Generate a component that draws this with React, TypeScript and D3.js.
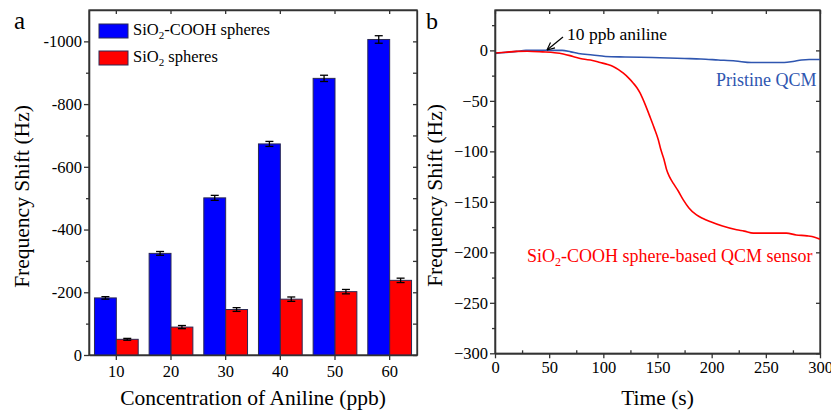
import React, { useRef, useEffect } from "react";
import * as d3 from "d3";

// panel a
const concentrations = ["10", "20", "30", "40", "50", "60"];
const seriesNames = ["cooh", "bare"];
const coohShift = [182, 324, 501, 673, 882, 1006];
const coohErr = [4, 6, 8, 8, 10, 12];
const bareShift = [50, 89, 145, 178, 202, 238];
const bareErr = [3, 5, 6, 7, 7, 7];
const shiftMajor = [0, 200, 400, 600, 800, 1000];
const shiftMinor = [100, 300, 500, 700, 900];

// panel b
const pristineTime = [0, 10, 20, 28.5, 45, 62, 70, 77, 90, 102, 120, 145, 160, 175, 190, 206, 222, 236.6, 250, 267, 275, 283, 290, 300];
const pristineShift = [-3, -2, -1, 0, 0, 0, -1.5, -3, -4.5, -6, -6.5, -7, -7.5, -8, -8.5, -9.5, -10.5, -12, -12, -12, -11, -9.5, -9, -9];
const sensorTime = [0, 10, 20, 30, 44, 55, 63, 72, 81, 90, 97, 104, 109, 114, 118.5, 123, 127.7, 131, 134, 138, 143, 147, 150.8, 153, 156, 158.5, 161, 164.6, 169, 173.8, 179, 186, 192, 198.5, 210, 223, 230, 238.5, 250, 269, 278, 288, 295, 300];
const sensorShift = [-2.6, -1.8, -1, -0.8, -1.5, -2.3, -3.5, -6, -8.6, -10, -12, -14, -16, -19, -22.6, -27, -32.5, -37, -42.4, -52, -65.6, -77, -88.8, -98, -108, -118.5, -125, -131.7, -139, -148, -156, -163, -166.5, -169.5, -174, -177.7, -179, -181, -181, -181, -182.8, -183.7, -185, -187];
const timeMajor = [0, 50, 100, 150, 200, 250, 300];
const timeMinor = [25, 75, 125, 175, 225, 275];
const shiftBMajor = [0, -50, -100, -150, -200, -250, -300];
const shiftBMinor = [25, -25, -75, -125, -175, -225, -275];

const FONT = "Liberation Serif, DejaVu Serif, serif";
const AXIS = "#333";
const BLUE_LINE = "#2f56b0";

const xA = d3.scaleBand<string>().domain(concentrations).range([89, 417]).paddingInner(0.2).paddingOuter(0.1);
const subA = d3.scaleBand<string>().domain(seriesNames).range([0, xA.bandwidth()]);
const yA = d3.scaleLinear().domain([0, 1100]).range([355, 10]);

const xB = d3.scaleLinear().domain([0, 300]).range([495, 820]);
const yB = d3.scaleLinear().domain([-300, 40]).range([353.3, 10]);

const styleAxis = (g: any, size: number) => {
  g.select(".domain").attr("stroke", AXIS).attr("stroke-width", 1.3);
  g.selectAll(".tick line").attr("stroke", AXIS).attr("stroke-width", 1.3);
  g.selectAll(".tick text").style("font-family", FONT).attr("font-size", size).attr("fill", "#000");
  g.attr("font-family", null).attr("font-size", null);
};

const App = () => {
  const axRef = useRef<SVGGElement>(null);

  useEffect(() => {
    const root = d3.select(axRef.current);
    root.selectAll("*").remove();
    const negFmt = (d: any) => (d === 0 ? "0" : "-" + d);

    // panel a axes
    root.append("g").attr("transform", "translate(89,0)")
      .call(d3.axisLeft(yA).tickValues(shiftMajor).tickFormat(negFmt).tickSize(5).tickPadding(2).tickSizeOuter(0))
      .call((g: any) => styleAxis(g, 16.5));
    root.append("g").attr("transform", "translate(89,0)")
      .call(d3.axisLeft(yA).tickValues(shiftMinor).tickFormat(() => "").tickSize(3).tickSizeOuter(0))
      .call((g: any) => styleAxis(g, 16.5));
    root.append("g").attr("transform", "translate(0,355)")
      .call(d3.axisBottom(xA).tickSize(5).tickPadding(5).tickSizeOuter(0))
      .call((g: any) => styleAxis(g, 16.5));
    root.append("g").attr("transform", "translate(0,10)")
      .call(d3.axisTop(xA).tickSize(-4).tickFormat(() => "").tickSizeOuter(0))
      .call((g: any) => styleAxis(g, 16.5));
    root.append("g").attr("transform", "translate(417,0)")
      .call(d3.axisRight(yA).tickValues([...shiftMajor, ...shiftMinor]).tickSize(-4).tickFormat(() => "").tickSizeOuter(0))
      .call((g: any) => styleAxis(g, 16.5));

    // panel b axes
    root.append("g").attr("transform", "translate(495,0)")
      .call(d3.axisLeft(yB).tickValues(shiftBMajor).tickSize(5).tickPadding(2).tickSizeOuter(0))
      .call((g: any) => styleAxis(g, 16.5));
    root.append("g").attr("transform", "translate(495,0)")
      .call(d3.axisLeft(yB).tickValues(shiftBMinor).tickFormat(() => "").tickSize(3).tickSizeOuter(0))
      .call((g: any) => styleAxis(g, 16.5));
    root.append("g").attr("transform", "translate(0,353.3)")
      .call(d3.axisBottom(xB).tickValues(timeMajor).tickFormat(d3.format("d")).tickSize(5).tickPadding(3).tickSizeOuter(0))
      .call((g: any) => styleAxis(g, 16.5));
    root.append("g").attr("transform", "translate(0,353.3)")
      .call(d3.axisTop(xB).tickValues(timeMinor).tickFormat(() => "").tickSize(3).tickSizeOuter(0))
      .call((g: any) => styleAxis(g, 16.5));
    root.append("g").attr("transform", "translate(0,10)")
      .call(d3.axisTop(xB).tickValues(timeMajor).tickSize(-4).tickFormat(() => "").tickSizeOuter(0))
      .call((g: any) => styleAxis(g, 16.5));
    root.append("g").attr("transform", "translate(820,0)")
      .call(d3.axisRight(yB).tickValues(shiftBMajor).tickSize(-4).tickFormat(() => "").tickSizeOuter(0))
      .call((g: any) => styleAxis(g, 16.5));
  }, []);

  const bars = concentrations.map((c, i) => [
    { key: "cooh", v: coohShift[i], e: coohErr[i], fill: "#0000ff", c },
    { key: "bare", v: bareShift[i], e: bareErr[i], fill: "#ff0000", c },
  ]).flat();

  const lineB = d3.line<[number, number]>().x(d => xB(d[0])).y(d => yB(d[1])).curve(d3.curveMonotoneX);
  const pristinePts = pristineTime.map((t, i) => [t, pristineShift[i]] as [number, number]);
  const sensorPts = sensorTime.map((t, i) => [t, sensorShift[i]] as [number, number]);

  return (
    <svg width={831} height={413} style={{ position: "absolute", left: 0, top: 0, background: "#fff", fontFamily: FONT }}>
      <defs>
        <clipPath id="clipB"><rect x={495} y={10} width={325} height={343.3} /></clipPath>
      </defs>

      {/* panel a */}
      <rect x={89} y={10} width={328} height={345} fill="none" stroke={AXIS} strokeWidth={1.3} />
      {bars.map(b => {
        const x = (xA(b.c) as number) + (subA(b.key) as number);
        const w = subA.bandwidth();
        const cx = x + w / 2;
        return (
          <g key={b.key + b.c}>
            <rect x={x} y={yA(b.v)} width={w} height={yA(0) - yA(b.v)} fill={b.fill} stroke="#2a2a55" strokeWidth={1} />
            <line x1={cx} x2={cx} y1={yA(b.v + b.e)} y2={yA(b.v - b.e)} stroke="#000" strokeWidth={1.3} />
            <line x1={cx - 4} x2={cx + 4} y1={yA(b.v + b.e)} y2={yA(b.v + b.e)} stroke="#000" strokeWidth={1.3} />
            <line x1={cx - 4} x2={cx + 4} y1={yA(b.v - b.e)} y2={yA(b.v - b.e)} stroke="#000" strokeWidth={1.3} />
          </g>
        );
      })}
      <rect x={99} y={24} width={29} height={14} fill="#0000ff" stroke="#2a2a55" strokeWidth={1} />
      <text x={133} y={35} fontSize={16.5}>SiO<tspan dy={4} fontSize={11}>2</tspan><tspan dy={-4}>-COOH spheres</tspan></text>
      <rect x={99} y={51} width={29} height={14} fill="#ff0000" stroke="#2a2a55" strokeWidth={1} />
      <text x={133} y={62} fontSize={16.5}>SiO<tspan dy={4} fontSize={11}>2</tspan><tspan dy={-4}> spheres</tspan></text>
      <text x={14} y={28.5} fontSize={25}>a</text>
      <text transform="translate(28.5,196.5) rotate(-90)" textAnchor="middle" fontSize={21.5}>Frequency Shift (Hz)</text>
      <text x={253} y={405} textAnchor="middle" fontSize={21.5}>Concentration of Aniline (ppb)</text>

      {/* panel b */}
      <rect x={495} y={10} width={325} height={343.3} fill="none" stroke={AXIS} strokeWidth={1.3} />
      <g clipPath="url(#clipB)">
        <path d={lineB(pristinePts) || ""} fill="none" stroke={BLUE_LINE} strokeWidth={1.6} />
        <path d={lineB(sensorPts) || ""} fill="none" stroke="#ff0000" strokeWidth={1.6} />
      </g>
      <line x1={563} y1={37} x2={547} y2={50} stroke="#000" strokeWidth={1.2} />
      <path d="M 547 50 L 555 47.8 M 547 50 L 550.5 42.5" stroke="#000" strokeWidth={1.2} fill="none" />
      <text x={567} y={40} fontSize={17.5}>10 ppb aniline</text>
      <text x={716} y={86} fontSize={18} fill={BLUE_LINE}>Pristine QCM</text>
      <text x={527} y={262} fontSize={18} fill="#ff0000">SiO<tspan dy={4} fontSize={12}>2</tspan><tspan dy={-4}>-COOH sphere-based QCM sensor</tspan></text>
      <text x={426} y={28.5} fontSize={24}>b</text>
      <text transform="translate(442,195.5) rotate(-90)" textAnchor="middle" fontSize={21.5}>Frequency Shift (Hz)</text>
      <text x={657.5} y={405} textAnchor="middle" fontSize={21.5}>Time (s)</text>

      <g ref={axRef} />
    </svg>
  );
};

export default App;
